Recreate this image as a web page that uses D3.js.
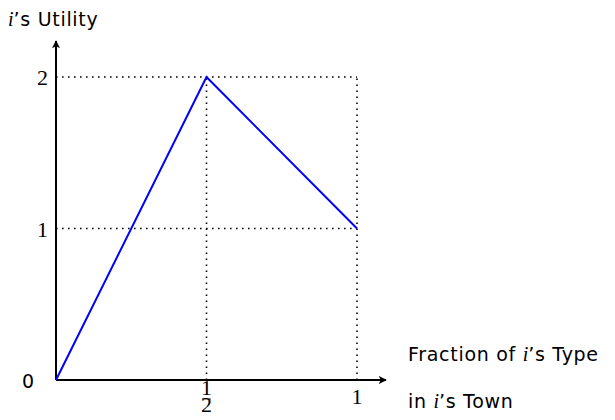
<!DOCTYPE html>
<html>
<head>
<meta charset="utf-8">
<script src="https://cdn.jsdelivr.net/npm/d3@7/dist/d3.min.js"></script>
<style>
  html, body { margin: 0; padding: 0; background: #fff; }
  svg { display: block; }
  .lbl { font-family: "DejaVu Sans", "Liberation Sans", sans-serif; font-size: 19px; letter-spacing: 0.7px; fill: #000; }
  .tick { font-family: "Liberation Serif", "DejaVu Serif", serif; font-size: 22px; fill: #000; }
  .mi { font-family: "Liberation Serif", "DejaVu Serif", serif; font-style: italic; letter-spacing: 0; }
</style>
</head>
<body>
<svg id="chart" width="615" height="420"></svg>
<script>
// Utility curve: piecewise linear, peaking at one half
const fractions = [0, 0.5, 1];
const utilities = [0, 2, 1];
const xTickValues = [0.5, 1];
const yTickValues = [1, 2];

const svg = d3.select("#chart");
const x = d3.scaleLinear().domain([0, 1]).range([56, 357]);
const y = d3.scaleLinear().domain([0, 2]).range([380, 77]);

const defs = svg.append("defs");
defs.append("marker")
  .attr("id", "arrow")
  .attr("viewBox", "0 0 10 10")
  .attr("refX", 9).attr("refY", 5)
  .attr("markerWidth", 8).attr("markerHeight", 8)
  .attr("markerUnits", "userSpaceOnUse")
  .attr("orient", "auto")
  .append("path")
  .attr("d", "M0,0 L10,5 L0,10 L2.5,5 Z")
  .attr("fill", "#000");

// Dotted guide lines
const guide = svg.append("g")
  .attr("stroke", "#000")
  .attr("stroke-width", 1.6)
  .attr("stroke-dasharray", "1.6 4.4")
  .attr("fill", "none");

const maxX = d3.max(fractions), maxY = d3.max(utilities);
yTickValues.forEach(v => {
  guide.append("line")
    .attr("x1", x(0)).attr("x2", x(maxX))
    .attr("y1", y(v)).attr("y2", y(v));
});
xTickValues.forEach(v => {
  guide.append("line")
    .attr("x1", x(v)).attr("x2", x(v))
    .attr("y1", y(0)).attr("y2", y(maxY));
});

// Axes with arrow heads
svg.append("line")
  .attr("x1", x(0)).attr("y1", y(0))
  .attr("x2", 386).attr("y2", y(0))
  .attr("stroke", "#000").attr("stroke-width", 2)
  .attr("marker-end", "url(#arrow)");
svg.append("line")
  .attr("x1", x(0)).attr("y1", y(0))
  .attr("x2", x(0)).attr("y2", 41)
  .attr("stroke", "#000").attr("stroke-width", 2)
  .attr("marker-end", "url(#arrow)");

// Utility line
svg.append("path")
  .datum(fractions.map((f, i) => [f, utilities[i]]))
  .attr("fill", "none")
  .attr("stroke", "#0000ff")
  .attr("stroke-width", 2)
  .attr("d", d3.line().x(d => x(d[0])).y(d => y(d[1])));

// Y tick labels
yTickValues.forEach(v => {
  svg.append("text").attr("class", "tick")
    .attr("x", x(0) - 8).attr("y", y(v) + 8)
    .attr("text-anchor", "end")
    .text(v);
});
svg.append("text").attr("class", "lbl")
  .attr("x", 28).attr("y", 388)
  .attr("text-anchor", "middle")
  .attr("font-size", 21)
  .style("letter-spacing", "0")
  .text("0");

// X tick labels: one half as a stacked fraction, then 1
const fx = x(0.5);
svg.append("text").attr("class", "tick").attr("font-size", 11)
  .attr("text-anchor", "middle").attr("x", fx).attr("y", 395).text("1");
svg.append("text").attr("class", "tick").attr("font-size", 11)
  .attr("text-anchor", "middle").attr("x", fx).attr("y", 412).text("2");
svg.append("line").attr("x1", fx - 4.5).attr("x2", fx + 4.5)
  .attr("y1", 399).attr("y2", 399)
  .attr("stroke", "#000").attr("stroke-width", 0.8);

svg.append("text").attr("class", "tick")
  .attr("x", x(1)).attr("y", 404)
  .attr("text-anchor", "middle").text("1");

// Axis titles
const yt = svg.append("text").attr("class", "lbl").attr("x", 8).attr("y", 26);
yt.append("tspan").attr("class", "mi").attr("font-size", 20).text("i");
yt.append("tspan").text("’s Utility");

const xt1 = svg.append("text").attr("class", "lbl").attr("x", 408).attr("y", 361);
xt1.append("tspan").text("Fraction of ");
xt1.append("tspan").attr("class", "mi").attr("font-size", 20).text("i");
xt1.append("tspan").text("’s Type");

const xt2 = svg.append("text").attr("class", "lbl").attr("x", 408).attr("y", 408);
xt2.append("tspan").text("in ");
xt2.append("tspan").attr("class", "mi").attr("font-size", 20).text("i");
xt2.append("tspan").text("’s Town");
</script>
</body>
</html>
